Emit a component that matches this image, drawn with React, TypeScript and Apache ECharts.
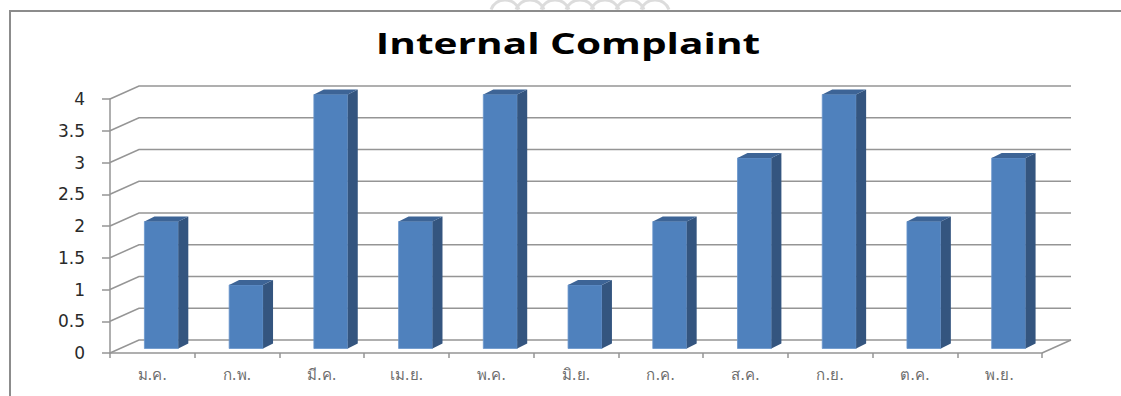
import React, { useEffect, useRef } from "react";
import * as echarts from "echarts";

const categories = ["ม.ค.", "ก.พ.", "มี.ค.", "เม.ย.", "พ.ค.", "มิ.ย.", "ก.ค.", "ส.ค.", "ก.ย.", "ต.ค.", "พ.ย."];
const complaints = [2, 1, 4, 2, 4, 1, 2, 3, 4, 2, 3];
const yTicks = [0, 0.5, 1, 1.5, 2, 2.5, 3, 3.5, 4];
const titleText = "Internal Complaint";

const DEPTH_X = 29;
const DEPTH_Y = -13;
const BAR_DX = 9;
const BAR_DY = -4.5;
const SIDE_X = 10;
const SIDE_Y = -5;
const GRID_COLOR = "#959595";

export default function App() {
  const ref = useRef<HTMLDivElement>(null);
  useEffect(() => {
    if (!ref.current) return;
    const chart = echarts.init(ref.current, undefined, { renderer: "svg" });
    const arches: any[] = [];
    for (let i = 0; i < 7; i++) {
      arches.push({
        type: "arc",
        shape: { cx: 505 + i * 25, cy: 15, r: 15, startAngle: Math.PI * 1.12, endAngle: Math.PI * 1.88 },
        style: { stroke: "#dcdcdc", lineWidth: 3, fill: null },
        silent: true,
      });
    }
    chart.setOption({
      animation: false,
      backgroundColor: "#ffffff",
      grid: { left: 110, top: 99, width: 932, height: 254, containLabel: false },
      graphic: [
        ...arches,
        { type: "line", shape: { x1: 9, y1: 11, x2: 1121, y2: 11 }, style: { stroke: "#8c8c8c", lineWidth: 2 }, z: 10 },
        { type: "line", shape: { x1: 10, y1: 11, x2: 10, y2: 396 }, style: { stroke: "#8c8c8c", lineWidth: 2 }, z: 10 },
        {
          type: "text",
          x: 568,
          y: 42,
          scaleX: 1.4,
          style: {
            text: titleText,
            font: "bold 29px 'Open Sans'",
            fill: "#000000",
            textAlign: "center",
            textVerticalAlign: "middle",
          },
          z: 10,
        },
      ],
      xAxis: {
        type: "category",
        data: categories,
        boundaryGap: true,
        axisLine: { show: true, lineStyle: { color: GRID_COLOR, width: 1.5 } },
        axisTick: { show: true, length: 5, lineStyle: { color: GRID_COLOR, width: 1.5 } },
        axisLabel: { color: "#6e6e6e", fontSize: 15, margin: 14, fontFamily: "DejaVu Sans" },
        splitLine: { show: false },
      },
      yAxis: {
        type: "value",
        min: 0,
        max: 4,
        interval: 0.5,
        axisLine: { show: true, lineStyle: { color: GRID_COLOR, width: 1.5 } },
        axisTick: { show: true, length: 8, lineStyle: { color: GRID_COLOR, width: 1.5 } },
        axisLabel: { color: "#2a2a2a", fontSize: 17, margin: 25, fontFamily: "DejaVu Sans" },
        splitLine: { show: false },
      },
      series: [
        {
          type: "custom",
          z: 1,
          silent: true,
          data: yTicks.map((v) => [0, v]),
          renderItem: (params: any, api: any) => {
            const cs = params.coordSys;
            const v = api.value(1);
            const y = api.coord([0, v])[1];
            const x0 = cs.x;
            const xR = cs.x + cs.width;
            const children: any[] = [
              {
                type: "polyline",
                shape: { points: [[x0, y], [x0 + DEPTH_X, y + DEPTH_Y], [xR + DEPTH_X, y + DEPTH_Y]] },
                style: { stroke: GRID_COLOR, lineWidth: 1.5, fill: null },
              },
            ];
            if (v === 0) {
              children.push({
                type: "line",
                shape: { x1: xR, y1: y, x2: xR + DEPTH_X, y2: y + DEPTH_Y },
                style: { stroke: GRID_COLOR, lineWidth: 1.5 },
              });
            }
            return { type: "group", children };
          },
        },
        {
          type: "custom",
          z: 2,
          data: complaints.map((v, i) => [i, v]),
          renderItem: (params: any, api: any) => {
            const i = api.value(0);
            const v = api.value(1);
            const top = api.coord([i, v]);
            const base = api.coord([i, 0]);
            const bw = api.size([1, 0])[0] * 0.4;
            const x1 = top[0] - bw / 2 + BAR_DX;
            const x2 = top[0] + bw / 2 + BAR_DX;
            const yt = top[1] + BAR_DY;
            const yb = base[1] + BAR_DY;
            return {
              type: "group",
              children: [
                {
                  type: "rect",
                  shape: { x: x1, y: yt, width: x2 - x1, height: yb - yt },
                  style: { fill: "#4f81bd", stroke: "#6a96cc", lineWidth: 0.8 },
                },
                {
                  type: "polygon",
                  shape: { points: [[x2, yt], [x2 + SIDE_X, yt + SIDE_Y], [x2 + SIDE_X, yb + SIDE_Y], [x2, yb]] },
                  style: { fill: "#34557f" },
                },
                {
                  type: "polygon",
                  shape: { points: [[x1, yt], [x2, yt], [x2 + SIDE_X, yt + SIDE_Y], [x1 + SIDE_X, yt + SIDE_Y]] },
                  style: { fill: "#3d6496" },
                },
              ],
            };
          },
        },
      ],
    });
    return () => chart.dispose();
  }, []);
  return (
    <div
      ref={ref}
      style={{ position: "absolute", left: 0, top: 0, width: 1121, height: 396, background: "#fff" }}
    />
  );
}
